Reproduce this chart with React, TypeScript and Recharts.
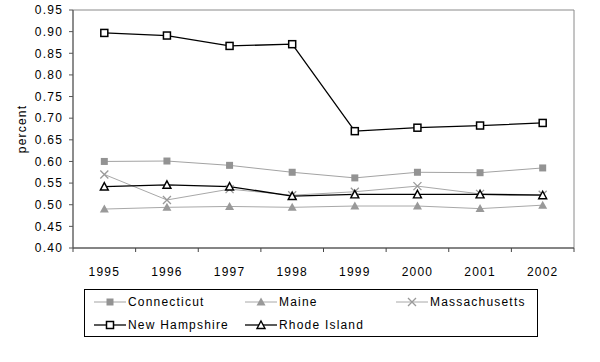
import {
  Label,
  Legend,
  Line,
  LineChart,
  ReferenceArea,
  XAxis,
  YAxis,
} from "recharts";

const years = [1995, 1996, 1997, 1998, 1999, 2000, 2001, 2002];
const connecticut = [0.6, 0.601, 0.591, 0.575, 0.562, 0.575, 0.574, 0.585];
const maine = [0.49, 0.494, 0.496, 0.494, 0.497, 0.497, 0.491, 0.499];
const massachusetts = [0.57, 0.511, 0.536, 0.522, 0.53, 0.543, 0.525, 0.523];
const newHampshire = [0.897, 0.891, 0.867, 0.871, 0.67, 0.678, 0.683, 0.689];
const rhodeIsland = [0.542, 0.546, 0.542, 0.52, 0.524, 0.524, 0.524, 0.522];
const yTicks = [0.4, 0.45, 0.5, 0.55, 0.6, 0.65, 0.7, 0.75, 0.8, 0.85, 0.9, 0.95];

type Shape = "filledSquare" | "filledTriangle" | "cross" | "openSquare" | "openTriangle";

const series: { key: string; name: string; values: number[]; color: string; marker: string; shape: Shape; width: number }[] = [
  { key: "ct", name: "Connecticut", values: connecticut, color: "#a3a3a3", marker: "#939393", shape: "filledSquare", width: 1 },
  { key: "me", name: "Maine", values: maine, color: "#a8a8a8", marker: "#999999", shape: "filledTriangle", width: 1 },
  { key: "ma", name: "Massachusetts", values: massachusetts, color: "#a8a8a8", marker: "#999999", shape: "cross", width: 1 },
  { key: "nh", name: "New Hampshire", values: newHampshire, color: "#000000", marker: "#000000", shape: "openSquare", width: 1.3 },
  { key: "ri", name: "Rhode Island", values: rhodeIsland, color: "#000000", marker: "#000000", shape: "openTriangle", width: 1.3 },
];

const data = years.map((year, i) => {
  const row: Record<string, number> = { year };
  series.forEach((s) => (row[s.key] = s.values[i]));
  return row;
});

// category boundaries and centres, like an Excel category axis
const xTicks: number[] = [years[0] - 0.5];
years.forEach((y) => xTicks.push(y, y + 0.5));

function Marker({ cx, cy, shape, color }: { cx: number; cy: number; shape: Shape; color: string }) {
  if (cx == null || cy == null) return null;
  switch (shape) {
    case "filledSquare":
      return <rect x={cx - 3.5} y={cy - 3.5} width={7} height={7} fill={color} />;
    case "filledTriangle":
      return <polygon points={`${cx},${cy - 4.5} ${cx + 4.5},${cy + 3.5} ${cx - 4.5},${cy + 3.5}`} fill={color} />;
    case "cross":
      return (
        <path
          d={`M${cx - 4},${cy - 4}L${cx + 4},${cy + 4}M${cx + 4},${cy - 4}L${cx - 4},${cy + 4}`}
          stroke={color}
          strokeWidth={1.3}
        />
      );
    case "openSquare":
      return <rect x={cx - 3.5} y={cy - 3.5} width={7} height={7} fill="#fff" stroke={color} strokeWidth={1.5} />;
    case "openTriangle":
      return (
        <polygon
          points={`${cx},${cy - 4} ${cx + 4},${cy + 3.5} ${cx - 4},${cy + 3.5}`}
          fill="#fff"
          stroke={color}
          strokeWidth={1.4}
        />
      );
  }
}

function XTick(props: any) {
  const { x, y, payload } = props;
  const v = payload.value as number;
  if (Number.isInteger(v)) {
    return (
      <text x={x} y={y + 28} textAnchor="middle" fontSize={12} fill="#000">
        {v}
      </text>
    );
  }
  return <line x1={x} x2={x} y1={y} y2={y + 4} stroke="#444" />;
}

function LegendBox() {
  return (
    <div
      style={{
        border: "1px solid #000",
        background: "#fff",
        display: "grid",
        gridTemplateColumns: "151px 151px 151px",
        gridAutoRows: "23px",
        paddingLeft: 9,
        boxSizing: "border-box",
        fontSize: 12,
        color: "#000",
      }}
    >
      {series.map((s) => (
        <div key={s.key} style={{ display: "flex", alignItems: "center" }}>
          <svg width={32} height={12} style={{ marginRight: 2 }}>
            <line x1={0} x2={32} y1={6} y2={6} stroke={s.color} strokeWidth={s.width} />
            <Marker cx={16} cy={6} shape={s.shape} color={s.marker} />
          </svg>
          <span>{s.name}</span>
        </div>
      ))}
    </div>
  );
}

export default function App() {
  return (
    <div
      style={{
        position: "absolute",
        left: 0,
        top: 0,
        fontFamily: "'Liberation Sans', Arial, sans-serif",
        letterSpacing: "1.2px",
        background: "#fff",
      }}
    >
      <LineChart width={600} height={362} data={data} margin={{ top: 10, right: 26, bottom: 84, left: 0 }}>
        <ReferenceArea
          x1={years[0] - 0.5}
          x2={years[years.length - 1] + 0.5}
          y1={0.4}
          y2={0.95}
          fill="none"
          stroke="#8a8a8a"
          ifOverflow="visible"
        />
        <XAxis
          dataKey="year"
          type="number"
          domain={[years[0] - 0.5, years[years.length - 1] + 0.5]}
          ticks={xTicks}
          interval={0}
          height={30}
          tickSize={0}
          tickMargin={0}
          tickLine={false}
          axisLine={{ stroke: "#444" }}
          tick={<XTick />}
        />
        <YAxis
          type="number"
          domain={[0.4, 0.95]}
          ticks={yTicks}
          interval={0}
          width={73}
          tickSize={4}
          tickMargin={6}
          tickFormatter={(v: number) => v.toFixed(2)}
          tick={{ fontSize: 12, fill: "#000" }}
          axisLine={{ stroke: "#555" }}
          tickLine={{ stroke: "#555" }}
        >
          <Label
            content={(p: any) => {
              const cx = 22;
              const cy = p.viewBox.y + p.viewBox.height / 2;
              return (
                <text
                  x={cx}
                  y={cy}
                  transform={`rotate(-90 ${cx} ${cy})`}
                  textAnchor="middle"
                  dominantBaseline="central"
                  fontSize={12}
                  fill="#000"
                >
                  percent
                </text>
              );
            }}
          />
        </YAxis>
        {series.map((s) => (
          <Line
            key={s.key}
            dataKey={s.key}
            name={s.name}
            type="linear"
            stroke={s.color}
            strokeWidth={s.width}
            isAnimationActive={false}
            dot={(p: any) => <Marker key={p.index} cx={p.cx} cy={p.cy} shape={s.shape} color={s.marker} />}
            activeDot={false}
          />
        ))}
        <Legend
          layout="horizontal"
          verticalAlign="middle"
          align="center"
          wrapperStyle={{ left: 84, top: 289, width: 454 }}
          content={() => <LegendBox />}
        />
      </LineChart>
    </div>
  );
}
